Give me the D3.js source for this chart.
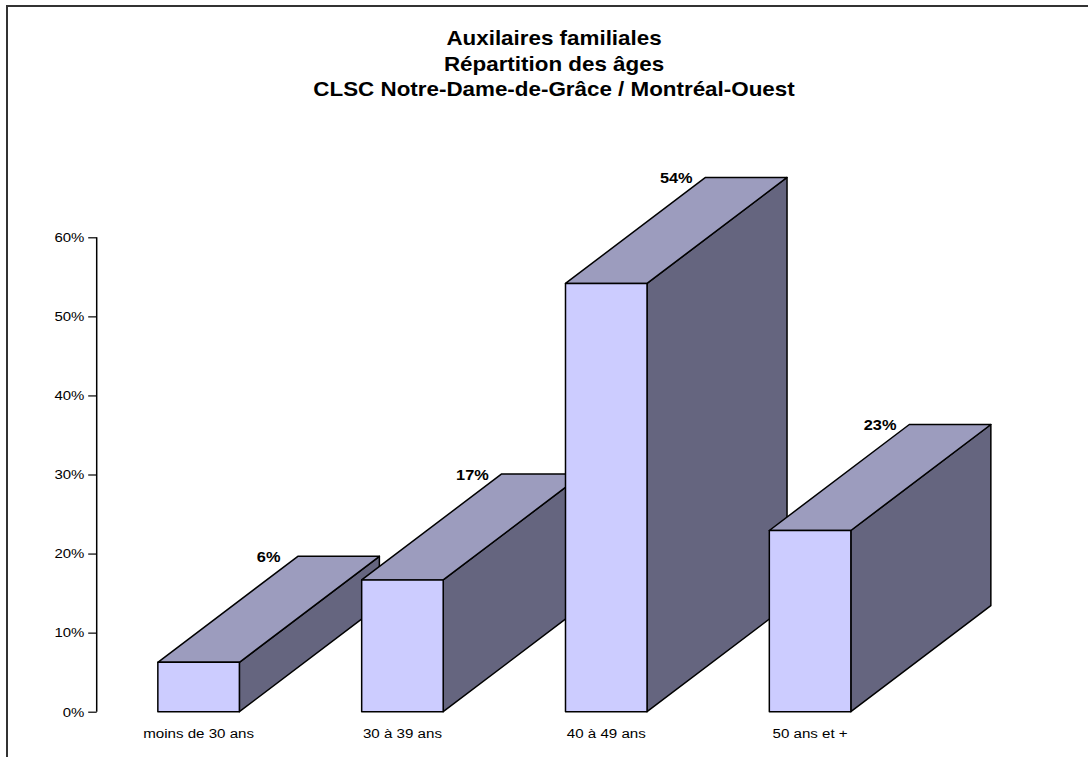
<!DOCTYPE html>
<html><head><meta charset="utf-8">
<script src="https://cdn.jsdelivr.net/npm/d3@7"></script>
<style>
html,body{margin:0;padding:0;background:#fff;}
svg{display:block;font-family:"Liberation Sans",Arial,sans-serif;}
</style></head>
<body>
<script>
const titleLines = ["Auxilaires familiales", "Répartition des âges", "CLSC Notre-Dame-de-Grâce / Montréal-Ouest"];
const categories = ["moins de 30 ans", "30 à 39 ans", "40 à 49 ans", "50 ans et +"];
const values = [0.0625, 0.1667, 0.5417, 0.2292];
const valueLabels = ["6%", "17%", "54%", "23%"];
const yTicks = [0, 0.1, 0.2, 0.3, 0.4, 0.5, 0.6];

const W = 1088, H = 757;
const svg = d3.select("body").append("svg").attr("width", W).attr("height", H);

// frame
svg.append("rect").attr("x", 7).attr("y", 6).attr("width", W + 20).attr("height", H + 20)
  .attr("fill", "none").attr("stroke", "#333").attr("stroke-width", 2);

// title
titleLines.forEach((t, i) => {
  svg.append("g").attr("transform", `translate(554,${45 + i * 25.5}) scale(1.12,1)`)
    .append("text").attr("text-anchor", "middle").attr("font-weight", "bold")
    .attr("font-size", 20).attr("fill", "#000").text(t);
});

const x0 = 96.7, x1 = 912, yBase = 711.7, yTop = 237.3;
const x = d3.scaleBand().domain(categories).range([x0, x1]).paddingInner(0.6).paddingOuter(0.3);
const y = d3.scaleLinear().domain([0, 0.6]).range([yBase, yTop]);
const DX = 140, DY = 106;

// axis
const ax = svg.append("g").attr("transform", `translate(${x0},0)`)
  .call(d3.axisLeft(y).tickValues(yTicks).tickFormat(d3.format(".0%")).tickSize(8.5).tickPadding(2.6));
ax.select(".domain").attr("d", `M-0,${yTop}V${yBase}`).attr("stroke", "#000").attr("stroke-width", 1.5);
ax.selectAll(".tick line").attr("stroke", "#000").attr("stroke-width", 1.2);
ax.selectAll(".tick text").attr("font-size", 13.5).attr("fill", "#000")
  .attr("font-family", "Liberation Sans, Arial, sans-serif")
  .attr("transform", `scale(1.11,1)`);

// bars
const bw = x.bandwidth();
const bars = svg.append("g");
categories.forEach((c, i) => {
  const bx = x(c), by = y(values[i]), b0 = y(0);
  const g = bars.append("g").attr("stroke", "#000").attr("stroke-width", 1.5).attr("stroke-linejoin", "round");
  // side
  g.append("path").attr("fill", "#65657f")
    .attr("d", `M${bx + bw},${b0}L${bx + bw + DX},${b0 - DY}L${bx + bw + DX},${by - DY}L${bx + bw},${by}Z`);
  // top
  g.append("path").attr("fill", "#9c9cbe")
    .attr("d", `M${bx},${by}L${bx + DX},${by - DY}L${bx + bw + DX},${by - DY}L${bx + bw},${by}Z`);
  // front
  g.append("rect").attr("x", bx).attr("y", by).attr("width", bw).attr("height", b0 - by).attr("fill", "#ccccff");
  // value label
  svg.append("g").attr("transform", `translate(${bx + bw / 2 + DX / 2},${by - DY + 6}) scale(1.09,1)`)
    .append("text").attr("text-anchor", "middle").attr("font-weight", "bold").attr("font-size", 15)
    .attr("fill", "#000").text(valueLabels[i]);
  // category label
  svg.append("g").attr("transform", `translate(${bx + bw / 2},738) scale(1.12,1)`)
    .append("text").attr("text-anchor", "middle").attr("font-size", 13.5).attr("fill", "#000").text(c);
});
</script>
</body></html>
